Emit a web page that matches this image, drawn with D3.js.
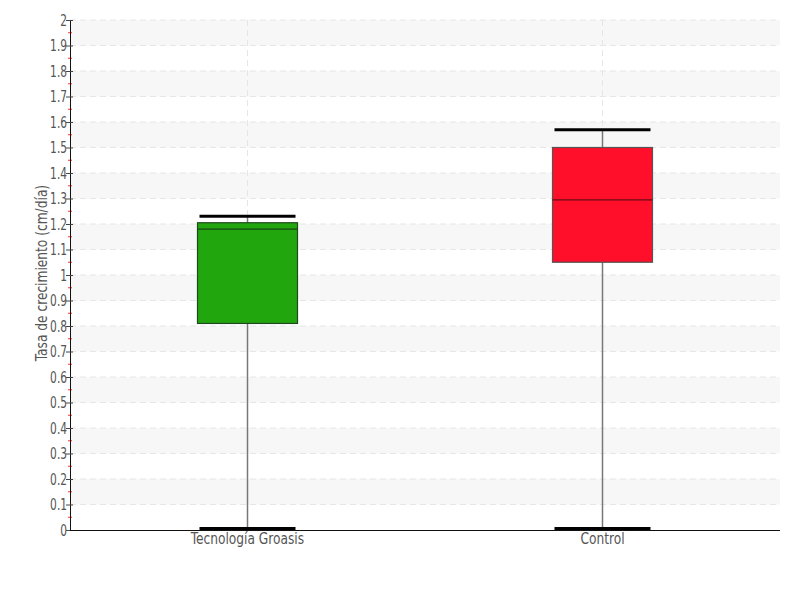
<!DOCTYPE html>
<html><head><meta charset="utf-8">
<script src="https://cdn.jsdelivr.net/npm/d3@7"></script>
<style>
body{margin:0;background:#fff;}
text{font-family:"DejaVu Sans Condensed","DejaVu Sans",sans-serif;}
</style></head><body>
<svg id="c" width="800" height="600"></svg>
<script>
const categories = ["Tecnología Groasis", "Control"];
const whiskerLow = [0, 0];
const q1 = [0.81, 1.05];
const median = [1.18, 1.295];
const q3 = [1.205, 1.5];
const whiskerHigh = [1.23, 1.57];
const colors = ["#21a60e", "#ff0f2a"];
const strokes = ["#1f4a1f", "#555555"];
const medianColors = ["#174717", "#6a0c16"];
const yTicks = d3.range(0, 21).map(i => i / 10);
const yTickLabels = ["0","0.1","0.2","0.3","0.4","0.5","0.6","0.7","0.8","0.9","1","1.1","1.2","1.3","1.4","1.5","1.6","1.7","1.8","1.9","2"];
const yLabel = "Tasa de crecimiento (cm/día)";

const svg = d3.select("#c");
const L = 70, R = 780, T = 20, B = 530;
const x = d3.scaleBand().domain(categories).range([L, R]);
const y = d3.scaleLinear().domain([0, 2]).range([B, T]);

// alternating bands
const bands = d3.range(0, 20).filter(i => i % 2 === 1);
svg.append("g").selectAll("rect").data(bands).join("rect")
  .attr("x", L).attr("width", R - L)
  .attr("y", i => y((i + 1) / 10)).attr("height", i => y(i / 10) - y((i + 1) / 10))
  .attr("fill", "#f7f7f7");

// horizontal grid
svg.append("g").selectAll("line").data(yTicks.slice(1)).join("line")
  .attr("x1", L).attr("x2", R).attr("y1", d => y(d)).attr("y2", d => y(d))
  .attr("stroke", "#e6e6e6").attr("stroke-dasharray", "6,4");
// vertical grid
svg.append("g").selectAll("line").data(categories).join("line")
  .attr("x1", d => x(d) + x.bandwidth() / 2).attr("x2", d => x(d) + x.bandwidth() / 2)
  .attr("y1", T).attr("y2", B)
  .attr("stroke", "#e6e6e6").attr("stroke-dasharray", "6,4");

// minor ticks
svg.append("g").selectAll("line").data(d3.range(0, 20).map(i => (i + 0.5) / 10)).join("line")
  .attr("x1", L - 2).attr("x2", L + 2).attr("y1", d => y(d)).attr("y2", d => y(d))
  .attr("stroke", "#ff3333");

// y axis
const yAxis = svg.append("g").attr("transform", `translate(${L},0)`)
  .call(d3.axisLeft(y).tickValues(yTicks).tickFormat((d, i) => yTickLabels[i]).tickSize(4).tickPadding(0));
yAxis.select(".domain").attr("stroke", "#111");
yAxis.selectAll(".tick line").attr("stroke", "#444").attr("x1", 3).attr("x2", -4);
yAxis.selectAll(".tick text").attr("fill", "#555").style("font-size", "16px")
  .attr("x", -4).attr("transform", "scale(0.74,1)");

// x axis
const xAxis = svg.append("g").attr("transform", `translate(0,${B})`)
  .call(d3.axisBottom(x).tickSize(0).tickPadding(3));
xAxis.select(".domain").attr("stroke", "#111").attr("d", `M${L},0.5H${R}`);
xAxis.selectAll(".tick text").attr("fill", "#555").style("font-size", "16px")
  .attr("transform", "scale(0.85,1)");

// y label
svg.append("text").attr("transform", `translate(47,${(T + B) / 2 - 2}) rotate(-90) scale(0.85,1)`)
  .attr("text-anchor", "middle").attr("fill", "#555").style("font-size", "16px")
  .text(yLabel);

// boxes
const boxW = 100, capW = 96;
const g = svg.append("g");
categories.forEach((c, i) => {
  const cx = x(c) + x.bandwidth() / 2;
  g.append("line").attr("x1", cx).attr("x2", cx).attr("y1", y(whiskerLow[i])).attr("y2", y(q1[i]))
    .attr("stroke", "#777").attr("stroke-width", 1.5);
  g.append("line").attr("x1", cx).attr("x2", cx).attr("y1", y(q3[i])).attr("y2", y(whiskerHigh[i]))
    .attr("stroke", "#777").attr("stroke-width", 1.5);
  g.append("rect").attr("x", cx - boxW / 2).attr("width", boxW)
    .attr("y", y(q3[i])).attr("height", y(q1[i]) - y(q3[i]))
    .attr("fill", colors[i]).attr("stroke", strokes[i]).attr("stroke-width", 1.2);
  g.append("line").attr("x1", cx - boxW / 2).attr("x2", cx + boxW / 2)
    .attr("y1", y(median[i])).attr("y2", y(median[i]))
    .attr("stroke", medianColors[i]).attr("stroke-width", 1.2);
  [whiskerLow[i], whiskerHigh[i]].forEach(v => {
    g.append("line").attr("x1", cx - capW / 2).attr("x2", cx + capW / 2)
      .attr("y1", y(v) - (v === 0 ? 1.5 : 0)).attr("y2", y(v) - (v === 0 ? 1.5 : 0))
      .attr("stroke", "#000").attr("stroke-width", 3);
  });
});
</script></body></html>
